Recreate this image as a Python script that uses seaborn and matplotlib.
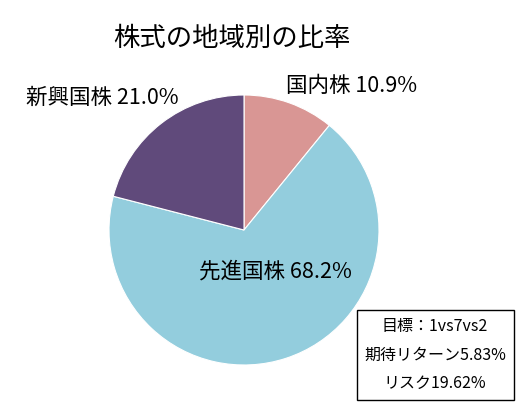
import matplotlib
matplotlib.use("Agg")
from matplotlib import pyplot as plt
import seaborn as sns

# data
regions = ['国内株', '先進国株', '新興国株']
shares = [10.9, 68.2, 21.0]
slice_colors = ['#D99694', '#93CDDD', '#604A7B']
title_text = '株式の地域別の比率'
note_lines = ['目標：1vs7vs2', '期待リターン5.83%', 'リスク19.62%']

sns.set_theme(style='white')
plt.rcParams['font.family'] = ['Noto Sans CJK JP', 'DejaVu Sans']

fig = plt.figure(figsize=(5.22, 4.13), dpi=100)
ax = fig.add_axes([0, 0, 1, 1])
ax.set_xlim(0, 522)
ax.set_ylim(0, 413)
ax.axis('off')

H = 413
wedges, _ = ax.pie(shares, colors=sns.color_palette(slice_colors), startangle=90,
                   counterclock=False, center=(244, H - 230), radius=135,
                   wedgeprops=dict(edgecolor='white', linewidth=0.8))
ax.set_xlim(0, 522)
ax.set_ylim(0, 413)
ax.set_aspect('auto')

# labels
label_pos = [(352, 86), (275, 272), (102, 98)]
for name, val, (x, y) in zip(regions, shares, label_pos):
    ax.text(x, H - y, f'{name} {val:.1f}%', ha='center', va='center', fontsize=15.5, color='black')

ax.text(232, H - 38, title_text, ha='center', va='center', fontsize=19, color='black')

# note box
ax.add_patch(plt.Rectangle((357, H - 400), 157, 90, fill=False, edgecolor='black', linewidth=1))
for i, line in enumerate(note_lines):
    ax.text(435, H - (327 + 28 * i), line, ha='center', va='center', fontsize=11.5, color='black')

plt.savefig('out.png', dpi=100)
